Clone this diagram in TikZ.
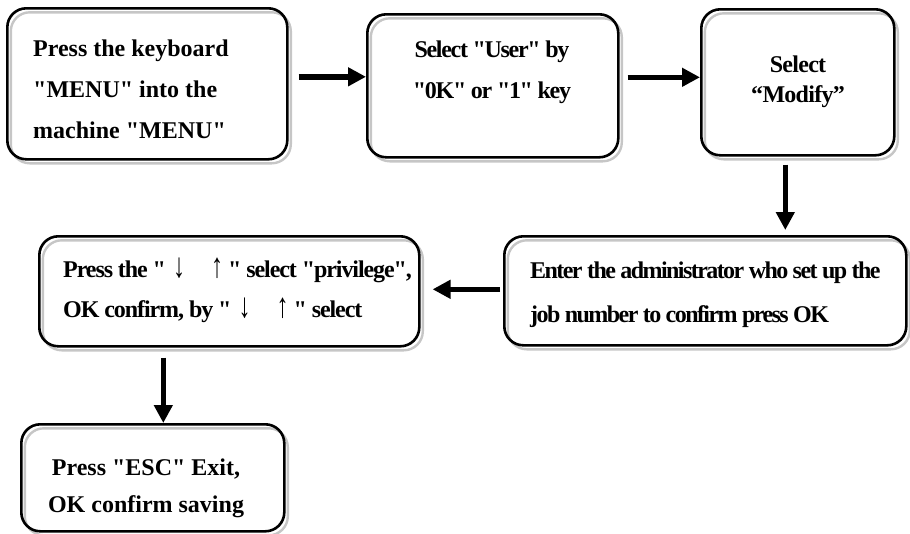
\documentclass[tikz,border=0pt]{standalone}
\usepackage{fontspec}
\newfontfamily\normfont{Liberation Serif}
\newfontfamily\condfont{Liberation Serif}[LetterSpace=-5.5]
\newfontfamily\condfontb{Liberation Serif}[LetterSpace=-4.5]
\newfontfamily\condfontc{Liberation Serif}[LetterSpace=-6.5]
\newfontfamily\condfontd{Liberation Serif}[LetterSpace=-3]
\usetikzlibrary{arrows.meta}
\newcommand{\darr}{{\mdseries\scalebox{1}[1.45]{↓}}}
\newcommand{\uarr}{{\mdseries\scalebox{1}[1.45]{↑}}}
\tikzset{
  box/.style={draw=black, line width=2.6pt, rounded corners=19pt, inner sep=0pt, anchor=north west,
    preaction={draw=gray!45, line width=2.4pt, transform canvas={xshift=3.5pt,yshift=-4pt}}},
  txt/.style={inner sep=0pt, font=\normfont\fontsize{24}{41}\selectfont\bfseries},
  ctxt/.style={inner sep=0pt, font=\condfont\fontsize{24}{41}\selectfont\bfseries},
  arr/.style={line width=5.5pt, -{Triangle[length=18pt,width=18pt]}},
}
\begin{document}
\begin{tikzpicture}[x=1pt,y=-1pt]
\useasboundingbox (0,0) rectangle (910,533);
% boxes
\node[box, minimum width=280pt, minimum height=151pt] (b1) at (6,7) {};
\node[box, minimum width=251pt, minimum height=143pt] (b2) at (366,13) {};
\node[box, minimum width=193pt, minimum height=146pt] (b3) at (700,8) {};
\node[box, minimum width=402pt, minimum height=109pt] (b5) at (503,235) {};
\node[box, minimum width=380pt, minimum height=110pt] (b4) at (38,235) {};
\node[box, minimum width=263pt, minimum height=107pt] (b6) at (20,423) {};
% texts
\node[txt, align=left, anchor=west] (t1) at (33,89) {Press the keyboard\\"MENU" into the\\machine "MENU"};
\node[ctxt, align=center] (t2) at (492,72.5) {Select "User" by\\"0K" or "1" key};
\node[ctxt, align=center, font=\condfontd\fontsize{24}{30}\selectfont\bfseries] (t3) at (798,82) {Select\\“Modify”};
\node[ctxt, align=left, anchor=west, font=\condfontb\fontsize{24}{40}\selectfont\bfseries] (t4) at (63,290) {Press the "\hspace{7pt}\darr\hspace{26pt}\uarr\hspace{5pt}" select "privilege",\\OK confirm, by "\hspace{7pt}\darr\hspace{26pt}\uarr\hspace{5pt}" select};
\node[ctxt, align=left, anchor=west, font=\condfontc\fontsize{24}{44}\selectfont\bfseries] (t5) at (530,295) {Enter the administrator who set up the\\job number to confirm press OK};
\node[txt, align=center, font=\normfont\fontsize{24}{37}\selectfont\bfseries] (t6) at (146,488.5) {Press "ESC" Exit,\\OK confirm saving};
% connectors
\draw[arr] ([shift={(10pt,7pt)}]b1.east) coordinate (s1) -- (s1 -| b2.west);
\draw[arr] ([shift={(8pt,8.5pt)}]b2.east) coordinate (s2) -- (s2 -| b3.west);
\coordinate (s3) at ([shift={(-12.5pt,-8pt)}]b3.south);
\coordinate (e3) at (s3 |- b5.north);
\draw[arr] (s3) -- ([yshift=5pt]e3);
\coordinate (s4) at ([shift={(-3pt,1.5pt)}]b5.west);
\coordinate (e4) at (s4 -| b4.east);
\draw[arr] (s4) -- ([xshift=12pt]e4);
\coordinate (s5) at ([shift={(-66pt,-10pt)}]b4.south);
\draw[arr] (s5) -- (s5 |- b6.north);
\end{tikzpicture}
\end{document}
